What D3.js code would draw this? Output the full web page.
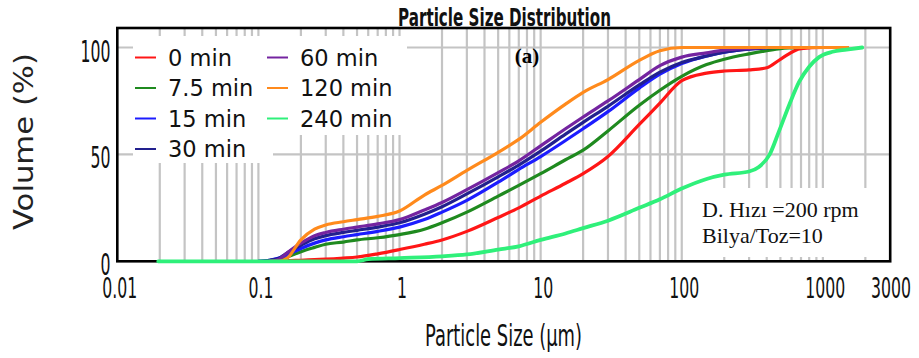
<!DOCTYPE html>
<html>
<head>
<meta charset="utf-8">
<script src="https://cdn.jsdelivr.net/npm/d3@7"></script>
<style>
  body { margin: 0; background: #fff; }
  svg { display: block; }
</style>
</head>
<body>
<svg id="chart" width="919" height="358"></svg>
<script>
// Particle sizes (µm) shared by the milled-powder curves
const sizeGrid = [0.1, 0.12, 0.14, 0.16, 0.2, 0.25, 0.3, 0.4, 0.5, 0.7, 1, 1.5, 2, 3, 5, 7, 10, 15, 20, 30, 50, 70, 100, 150, 200, 300, 400, 500, 700, 1000, 1500];

// Cumulative volume (%) for each milling time, on sizeGrid (null = not measured)
const vol0min   = [null, null, 0, 0.3, 0.5, 0.8, 1, 1.5, 2, 3.5, 5.5, 8, 10, 14, 20.5, 25, 30.5, 36.5, 41, 49, 64, 74, 84.5, 88, 89, 89.5, 90.5, 94.5, 99.5, 100, 100];
const vol7_5min = [null, 0, 0.5, 2, 4.5, 6.5, 8, 9, 10, 11, 12.5, 15, 18, 23, 30.5, 35.5, 41, 47.5, 52, 61, 73, 80, 86.5, 92, 94.5, 97, 98.5, 99.5, 100, null, null];
const vol15min  = [0, 0.5, 1.5, 3, 6, 8.5, 10, 11.5, 12.5, 14, 16, 19.5, 23, 28.5, 37, 43, 49, 56.5, 62, 70, 81, 87.5, 92.5, 96, 97.8, 99.3, 100, null, null, null, null];
const vol30min  = [0, 0.5, 1.5, 4, 7.5, 10.5, 12, 13.5, 14.5, 16, 18, 22, 25.5, 31.5, 39.5, 45, 51.5, 59.5, 65, 72.5, 82.5, 88.5, 93, 96, 97.8, 99.2, 99.8, 100, null, null, null];
const vol60min  = [null, 0, 1, 4, 8.5, 12, 13.5, 15, 16, 17.5, 19.5, 24, 27.5, 33.5, 41.5, 47, 54, 62, 67.5, 75, 85, 91.5, 95.5, 97.5, 98.8, 99.6, 100, null, null, null, null];
const vol120min = [null, 0, 0, 1.5, 10, 15, 17, 18.5, 19.5, 21, 23.5, 31, 35.5, 42.5, 51, 57, 65, 73.5, 79, 85, 94, 98.5, 100, 100, 100, 100, 100, 100, 100, 100, 100];

// The 240 min curve covers a wider size range
const size240min = [0.0195, 0.5, 0.6, 1, 2, 3, 5, 7, 10, 15, 20, 30, 50, 70, 100, 150, 200, 300, 350, 420, 490, 580, 680, 800, 940, 1170, 1470, 1900];
const vol240min  = [0, 0, 1, 1.5, 2.3, 3.2, 5.5, 7, 10, 13, 15.5, 19, 25, 29, 34, 38.5, 40.5, 42, 44, 50, 61, 73.5, 84, 91, 95.5, 98, 99, 100];

const seriesNames  = ["0 min", "7.5 min", "15 min", "30 min", "60 min", "120 min", "240 min"];
const seriesColors = ["#ff1616", "#1f8a1f", "#1c1cff", "#22208e", "#7424a0", "#ff8a1c", "#2ff07a"];

const xTickValues = [0.01, 0.1, 1, 10, 100, 1000, 3000];
const xTickLabels = ["0.01", "0.1", "1", "10", "100", "1000", "3000"];
const yTickValues = [0, 50, 100];
const yTickLabels = ["0", "50", "100"];

const svg = d3.select("#chart");
const plotLeft = 117.3, plotRight = 890.2, plotTop = 28, plotBottom = 261.3;

const x = d3.scaleLog().domain([0.01, 3000]).range([plotLeft, plotRight]);
const y = d3.scaleLinear().domain([0, 100]).range([plotBottom, 47.5]);

const gridColor = "#c4c4c4";

// Vertical grid at 1..9 x 10^n
const gridSizes = [];
for (let e = -2; e <= 3; e++) {
  for (let k = 1; k <= 9; k++) {
    const v = k * Math.pow(10, e);
    if (v > 0.01 && v < 3000) gridSizes.push(v);
  }
}
svg.append("g").selectAll("line").data(gridSizes).join("line")
  .attr("x1", d => x(d)).attr("x2", d => x(d))
  .attr("y1", plotTop).attr("y2", plotBottom)
  .attr("stroke", gridColor).attr("stroke-width", 2.2);

// Horizontal grid at 50 and 100 %
svg.append("g").selectAll("line").data([50, 100]).join("line")
  .attr("x1", plotLeft).attr("x2", plotRight)
  .attr("y1", d => y(d)).attr("y2", d => y(d))
  .attr("stroke", gridColor).attr("stroke-width", 2.2);

// White panels behind the legend and the note
const panels = svg.append("g").attr("fill", "#fff");
panels.append("rect").attr("x", 133).attr("y", 36).attr("width", 274).attr("height", 99);
panels.append("rect").attr("x", 133).attr("y", 134).attr("width", 140).attr("height", 29);
panels.append("rect").attr("x", 690).attr("y", 188).attr("width", 198).attr("height", 69);

// Frame (curves are drawn on top of it)
svg.append("rect")
  .attr("x", plotLeft).attr("y", plotTop)
  .attr("width", plotRight - plotLeft).attr("height", plotBottom - plotTop)
  .attr("fill", "none").attr("stroke", "#000").attr("stroke-width", 2.6);

// Curves
const line = d3.line()
  .defined(d => d[1] !== null)
  .x(d => x(d[0]))
  .y(d => y(d[1]))
  .curve(d3.curveMonotoneX);

const gridSeries = [vol0min, vol7_5min, vol15min, vol30min, vol60min, vol120min];
const curves = svg.append("g").attr("fill", "none").attr("stroke-linejoin", "round").attr("stroke-linecap", "round");
gridSeries.forEach((vals, i) => {
  curves.append("path")
    .datum(sizeGrid.map((s, j) => [s, vals[j]]))
    .attr("d", line)
    .attr("stroke", seriesColors[i])
    .attr("stroke-width", 3.2);
});
curves.append("path")
  .datum(size240min.map((s, j) => [s, vol240min[j]]))
  .attr("d", line)
  .attr("stroke", seriesColors[6])
  .attr("stroke-width", 3.8);

const axisFont = "'DejaVu Sans', Verdana, sans-serif";

// Y tick labels (condensed)
svg.append("g").selectAll("text").data(yTickValues).join("text")
  .attr("x", (d, i) => 110.5 - yTickLabels[i].length * 10)
  .attr("y", d => y(d) + 14)
  .attr("textLength", (d, i) => yTickLabels[i].length * 10)
  .attr("lengthAdjust", "spacingAndGlyphs")
  .attr("font-family", axisFont).attr("font-size", 30).attr("fill", "#111")
  .text((d, i) => yTickLabels[i]);

// X tick labels (condensed)
const labelLen = s => s.replace(/\./g, "").length * 10 + (s.split(".").length - 1) * 5;
svg.append("g").selectAll("text").data(xTickValues).join("text")
  .attr("x", (d, i) => Math.min(x(d) + 2.5, 891) - labelLen(xTickLabels[i]) / 2)
  .attr("y", 298)
  .attr("textLength", (d, i) => labelLen(xTickLabels[i]))
  .attr("lengthAdjust", "spacingAndGlyphs")
  .attr("font-family", axisFont).attr("font-size", 27.5).attr("fill", "#111")
  .text((d, i) => xTickLabels[i]);

// Axis titles
svg.append("text")
  .attr("x", 425).attr("y", 346)
  .attr("textLength", 157).attr("lengthAdjust", "spacingAndGlyphs")
  .attr("font-family", axisFont).attr("font-size", 31).attr("fill", "#111")
  .text("Particle Size (µm)");

svg.append("text")
  .attr("transform", "translate(33,230) rotate(-90)")
  .attr("x", 0).attr("y", 0)
  .attr("textLength", 177).attr("lengthAdjust", "spacingAndGlyphs")
  .attr("font-family", axisFont).attr("font-size", 27).attr("fill", "#222")
  .text("Volume (%)");

// Chart title
svg.append("text")
  .attr("x", 398).attr("y", 26)
  .attr("textLength", 213).attr("lengthAdjust", "spacingAndGlyphs")
  .attr("font-family", axisFont).attr("font-size", 24).attr("font-weight", "bold").attr("fill", "#111")
  .text("Particle Size Distribution");

// Panel tag
svg.append("text")
  .attr("x", 527).attr("y", 63).attr("text-anchor", "middle")
  .attr("font-family", "'Liberation Serif', 'Times New Roman', serif")
  .attr("font-size", 21).attr("font-weight", "bold").attr("fill", "#000")
  .text("(a)");

// Milling conditions note
const note = svg.append("g")
  .attr("font-family", "'Liberation Serif', 'Times New Roman', serif")
  .attr("font-size", 22).attr("fill", "#111");
note.append("text").attr("x", 702).attr("y", 217).text("D. Hızı =200 rpm");
note.append("text").attr("x", 702).attr("y", 243).text("Bilya/Toz=10");

// Legend
const legendCols = [135, 267];
const legendRows = [65.5, 96, 126.5, 157];
const legendPos = [[0, 0], [0, 1], [0, 2], [0, 3], [1, 0], [1, 1], [1, 2]];
const legend = svg.append("g");
seriesNames.forEach((name, i) => {
  const lx = legendCols[legendPos[i][0]];
  const ly = legendRows[legendPos[i][1]];
  legend.append("line")
    .attr("x1", lx).attr("x2", lx + 21)
    .attr("y1", ly - 8).attr("y2", ly - 8)
    .attr("stroke", seriesColors[i]).attr("stroke-width", 2);
  legend.append("text")
    .attr("x", lx + 33).attr("y", ly)
    .attr("font-family", axisFont).attr("font-size", 22.5).attr("fill", "#111")
    .text(name);
});
</script>
</body>
</html>
